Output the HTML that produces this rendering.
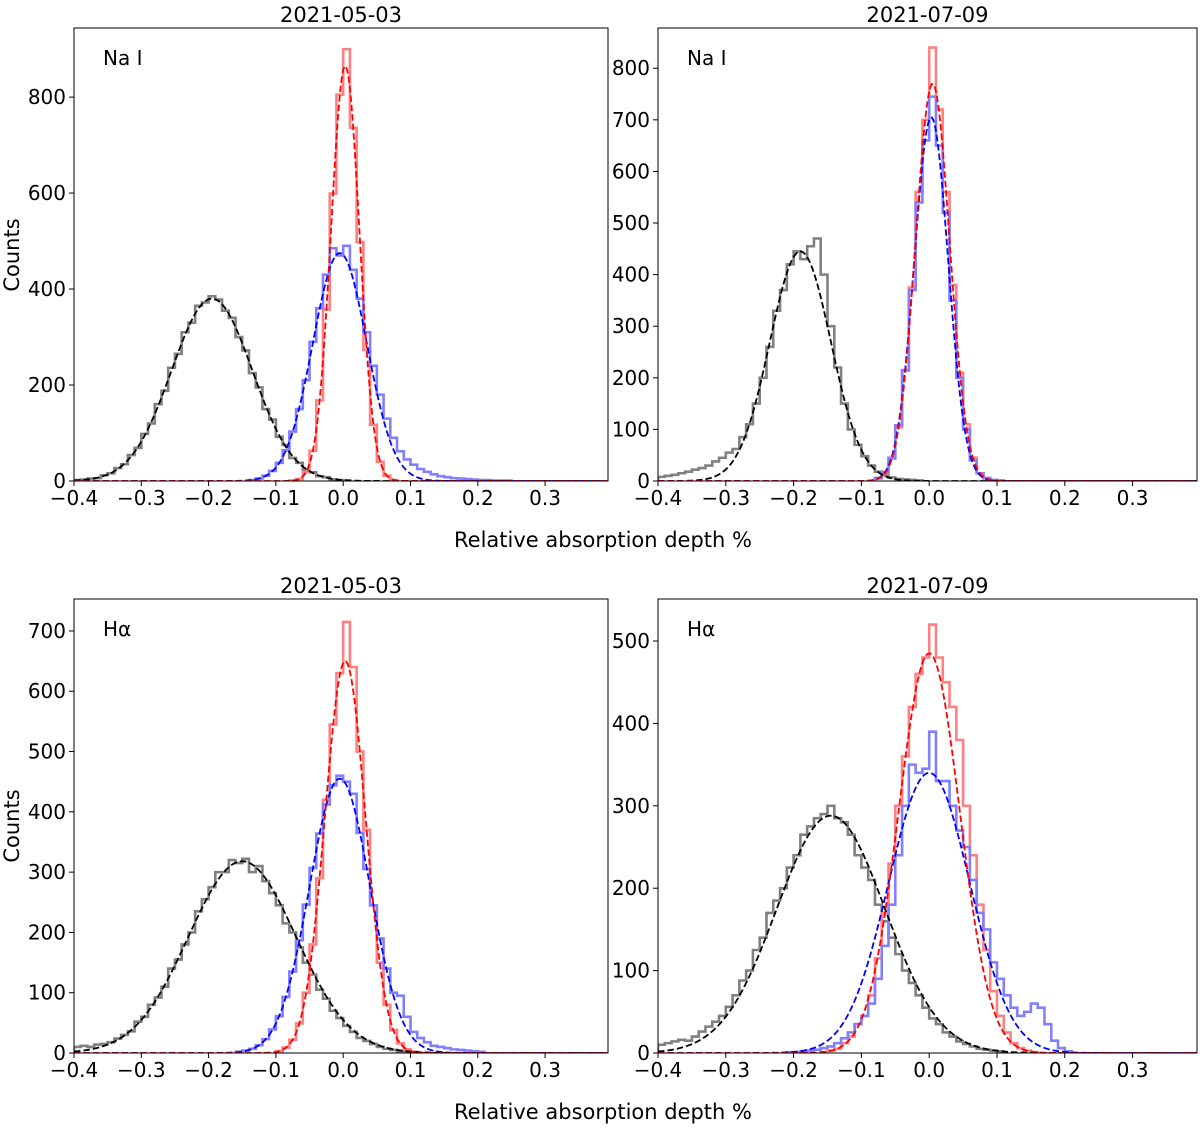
<!DOCTYPE html>
<html><head><meta charset="utf-8"><style>
body{margin:0;background:#fff;}
svg text{font-family:"DejaVu Sans","Liberation Sans",sans-serif;fill:#000;}
</style></head><body>
<svg id="fig" width="1200" height="1127" xmlns="http://www.w3.org/2000/svg"></svg>
<script>
// ---- data (bin width 0.01) ----
const binWidth = 0.01;
const xTicks = [-0.4,-0.3,-0.2,-0.1,0.0,0.1,0.2,0.3];
const xTickLabels = ["\u22120.4","\u22120.3","\u22120.2","\u22120.1","0.0","0.1","0.2","0.3"];
const panelTitles = ["2021-05-03","2021-07-09","2021-05-03","2021-07-09"];
const panelLines = ["Na I","Na I","H\u03b1","H\u03b1"];
const yTicks1 = [0,200,400,600,800];
const yTicks2 = [0,100,200,300,400,500,600,700,800];
const yTicks3 = [0,100,200,300,400,500,600,700];
const yTicks4 = [0,100,200,300,400,500];

const p1BlackStart = -0.40;
const p1Black = [2,3,5,6,12,16,27,35,54,69,98,120,160,188,236,265,310,330,365,372,385,378,355,340,300,272,225,195,150,128,92,75,48,38,22,18,10,8,3,2,1];
const p1RedStart = -0.08;
const p1Red = [1,4,19,63,168,357,599,805,900,736,498,273,117,40,11,2];
const p1BlueStart = -0.14;
const p1Blue = [2,5,11,21,38,64,103,150,210,290,360,430,485,470,490,440,380,310,240,180,130,90,62,45,34,25,19,14,10,8,6,5,4,3,2,2,1,1,1];

const p2BlackStart = -0.40;
const p2Black = [8,10,12,15,18,22,25,30,38,45,55,62,85,110,150,200,260,330,370,420,445,430,455,470,400,300,220,150,100,70,48,30,18,11,7,4,3,2,1];
const p2RedStart = -0.08;
const p2Red = [5,15,43,104,214,375,560,700,840,720,560,380,210,110,45,15,5,2];
const p2BlueStart = -0.08;
const p2Blue = [6,17,45,108,215,370,540,660,745,650,520,350,200,100,40,15,6,2,1];

const p3BlackStart = -0.40;
const p3Black = [10,12,10,14,15,18,24,30,36,52,60,80,92,110,140,155,180,200,235,255,275,300,300,320,315,322,300,310,285,265,245,215,200,175,150,130,105,90,70,58,45,35,25,20,15,10,7,5,3,2,1];
const p3RedStart = -0.10;
const p3Red = [3,9,22,49,100,180,290,420,545,630,715,640,500,370,245,150,80,38,16,6,2];
const p3BlueStart = -0.16;
const p3Blue = [2,4,7,13,23,39,61,93,135,187,246,307,364,412,444,460,450,430,365,305,245,190,140,100,95,60,35,25,18,12,10,8,6,5,4,3,2];

const p4BlackStart = -0.40;
const p4Black = [10,12,14,16,15,20,26,32,38,45,56,70,88,100,125,140,170,185,200,225,240,265,275,285,290,300,285,280,265,240,225,210,180,160,140,120,100,85,70,55,42,35,25,20,14,11,8,5,4,3,2];
const p4RedStart = -0.16;
const p4Red = [1,3,5,12,20,35,45,70,115,170,230,300,360,420,460,480,520,480,450,420,380,300,240,180,125,75,45,25,12,6,3,1];
const p4BlueStart = -0.21;
const p4Blue = [1,1,2,3,4,6,8,12,18,25,35,45,60,90,130,180,240,300,350,340,345,390,330,330,300,270,250,210,170,150,110,90,70,55,45,50,60,55,35,15,6,2];

const p1Fits = {black:[380,-0.195,0.06], blue:[475,-0.005,0.04], red:[865,0.003,0.021]};
const p2Fits = {black:[445,-0.19,0.045], blue:[705,0.003,0.025], red:[770,0.005,0.025]};
const p3Fits = {black:[318,-0.15,0.08], blue:[455,-0.005,0.045], red:[650,0.003,0.03]};
const p4Fits = {black:[288,-0.145,0.08], blue:[340,0.0,0.06], red:[485,0.0,0.045]};

const NS = "http://www.w3.org/2000/svg";
const svg = document.getElementById('fig');
function mk(tag, attrs, parent){const e=document.createElementNS(NS,tag);for(const k in attrs)e.setAttribute(k,attrs[k]);(parent||svg).appendChild(e);return e;}

const panels = [
 {l:74,r:608,t:28,b:481,xmin:-0.4,xmax:0.3935,ymax:944,yt:yTicks1,
  hists:[[p1BlackStart,p1Black,'#808080'],[p1RedStart,p1Red,'#ff8080'],[p1BlueStart,p1Blue,'#8080ff']],fits:p1Fits},
 {l:658,r:1197,t:28,b:481,xmin:-0.4,xmax:0.395,ymax:878,yt:yTicks2,
  hists:[[p2BlackStart,p2Black,'#808080'],[p2RedStart,p2Red,'#ff8080'],[p2BlueStart,p2Blue,'#8080ff']],fits:p2Fits},
 {l:74,r:608,t:599,b:1053,xmin:-0.4,xmax:0.3935,ymax:753,yt:yTicks3,
  hists:[[p3BlackStart,p3Black,'#808080'],[p3RedStart,p3Red,'#ff8080'],[p3BlueStart,p3Blue,'#8080ff']],fits:p3Fits},
 {l:658,r:1197,t:599,b:1053,xmin:-0.4,xmax:0.395,ymax:551,yt:yTicks4,
  hists:[[p4BlackStart,p4Black,'#808080'],[p4RedStart,p4Red,'#ff8080'],[p4BlueStart,p4Blue,'#8080ff']],fits:p4Fits}
];

panels.forEach((p,i)=>{
  const g = mk('g',{});
  
  
  const X = v => p.l + (v-p.xmin)/(p.xmax-p.xmin)*(p.r-p.l);
  const Y = v => p.b - v/p.ymax*(p.b-p.t);
  const clipId='clip'+i;
  const cp=mk('clipPath',{id:clipId},g); mk('rect',{x:p.l,y:p.t,width:p.r-p.l,height:p.b-p.t},cp);
  const plot=mk('g',{'clip-path':'url(#'+clipId+')'},g);
  p.hists.forEach(([start,counts,color],k)=>{
    let d='M'+X(start)+','+Y(0);
    counts.forEach((c,j)=>{const x0=X(start+j*binWidth),x1=X(start+(j+1)*binWidth);d+=' L'+x0+','+Y(c)+' L'+x1+','+Y(c);});
    d+=' L'+X(start+counts.length*binWidth)+','+Y(0);
    const h=mk('path',{d:d,fill:'none',stroke:color,'stroke-width':2.6,'stroke-linejoin':'miter'},plot);
    
    
  });
  [['black','#000'],['blue','#0000ff'],['red','#ff0000']].forEach(([key,col])=>{
    const [A,mu,s]=p.fits[key];
    let d='';
    for(let v=p.xmin;v<=p.xmax+1e-9;v+=0.002){const y=A*Math.exp(-(v-mu)*(v-mu)/(2*s*s));d+=(d?' L':'M')+X(v).toFixed(2)+','+Y(y).toFixed(2);}
    const f=mk('path',{d:d,fill:'none',stroke:col,'stroke-width':1.8,'stroke-dasharray':'6.5,3'},plot);
    
    
  });
  const fr=mk('rect',{x:p.l,y:p.t,width:p.r-p.l,height:p.b-p.t,fill:'none',stroke:'#000','stroke-width':1},g);
  
  
  xTicks.forEach((v,j)=>{
    const x=X(v);
    mk('line',{x1:x,y1:p.b,x2:x,y2:p.b+5,stroke:'#000','stroke-width':1},g);
    const t=mk('text',{x:x,y:p.b+24,'font-size':20,'text-anchor':'middle'},g);
    t.textContent=xTickLabels[j];
    
    
  });
  p.yt.forEach(v=>{
    const y=Y(v);
    mk('line',{x1:p.l-5,y1:y,x2:p.l,y2:y,stroke:'#000','stroke-width':1},g);
    const t=mk('text',{x:p.l-8,y:y+7,'font-size':20,'text-anchor':'end'},g);
    t.textContent=String(v);
    
    
  });
  const tt=mk('text',{x:(p.l+p.r)/2,y:p.t-6,'font-size':21,'text-anchor':'middle'},g);
  tt.textContent=panelTitles[i];
  
  
  const lab=mk('text',{x:p.l+29,y:p.t+37,'font-size':20},g);
  lab.textContent=panelLines[i];
  
  
});
[[547],[1119]].forEach(([y])=>{
  const t=mk('text',{x:603,y:y,'font-size':21,'text-anchor':'middle'});
  t.textContent='Relative absorption depth %';
  
  
});
[[255],[826]].forEach(([y])=>{
  const t=mk('text',{x:19,y:y,'font-size':21,'text-anchor':'middle',transform:'rotate(-90 19 '+y+')'});
  t.textContent='Counts';
  
  
});
</script>
</body></html>
